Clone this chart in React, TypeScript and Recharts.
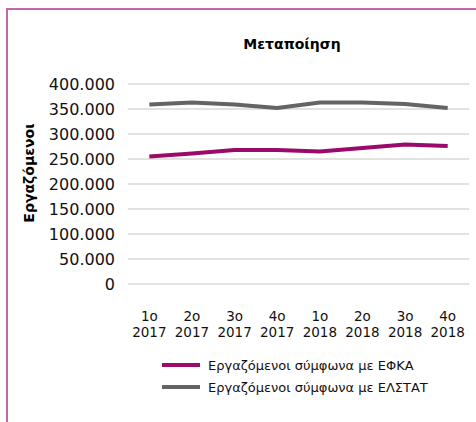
import React from 'react';
import { LineChart, Line, XAxis, YAxis, CartesianGrid, Legend } from 'recharts';

const quarters = ['1ο', '2ο', '3ο', '4ο', '1ο', '2ο', '3ο', '4ο'];
const years = ['2017', '2017', '2017', '2017', '2018', '2018', '2018', '2018'];
const efka = [255000, 261000, 268000, 268000, 265000, 272000, 279000, 276000];
const elstat = [359000, 363000, 359000, 352000, 363000, 363000, 360000, 352000];
const yTicks = [0, 50000, 100000, 150000, 200000, 250000, 300000, 350000, 400000];
const seriesNames = ['Εργαζόμενοι σύμφωνα με ΕΦΚΑ', 'Εργαζόμενοι σύμφωνα με ΕΛΣΤΑΤ'];
const title = 'Μεταποίηση';
const yLabel = 'Εργαζόμενοι';

const COLORS = ['#9b0a6b', '#646464'];
const FONT = '"DejaVu Sans", sans-serif';

const data = quarters.map((q, i) => ({
  key: `${q} ${years[i]}`,
  q,
  y: years[i],
  efka: efka[i],
  elstat: elstat[i],
}));

const fmt = (v: number) => v === 0 ? '0' : v.toString().replace(/\B(?=(\d{3})+(?!\d))/g, '.');

const XTick = (props: any) => {
  const { x, y, payload, index } = props;
  const i = index ?? data.findIndex((d) => d.key === payload.value);
  const d = data[i] || { q: '', y: '' };
  return (
    <g>
      <text x={x} y={y + 29} textAnchor="middle" fontFamily={FONT} fontSize={13.5} fill="#111">
        {d.q}
      </text>
      <text x={x} y={y + 45} textAnchor="middle" fontFamily={FONT} fontSize={13.5} fill="#111">
        {d.y}
      </text>
    </g>
  );
};

const LegendContent = () => (
  <div style={{ height: 44, fontFamily: FONT, fontSize: 13, color: '#111' }}>
    {seriesNames.map((n, i) => (
      <div key={n} style={{ height: 22, display: 'flex', alignItems: 'center' }}>
        <svg width={38} height={6} style={{ marginRight: 8 }}>
          <line x1={0} y1={3} x2={38} y2={3} stroke={COLORS[i]} strokeWidth={4} />
        </svg>
        <span>{n}</span>
      </div>
    ))}
  </div>
);

export default function App() {
  return (
    <div style={{ position: 'absolute', left: 0, top: 0, width: 476, height: 422, background: '#fff' }}>
      <div
        style={{
          position: 'absolute',
          left: 6,
          top: 8,
          width: 470,
          height: 414,
          boxSizing: 'border-box',
          borderTop: '2px solid #c463ae',
          borderLeft: '2px solid #c463ae',
        }}
      />
      <div
        style={{
          position: 'absolute',
          left: 192,
          width: 200,
          top: 36,
          textAlign: 'center',
          fontFamily: FONT,
          fontWeight: 'bold',
          fontSize: 14,
          color: '#000',
        }}
      >
        {title}
      </div>
      <LineChart
        width={476}
        height={422}
        data={data}
        margin={{ top: 84, right: 7, left: 0, bottom: 24 }}
        style={{ position: 'absolute', left: 0, top: 0 }}
      >
        <CartesianGrid vertical={false} stroke="#d9d9d9" strokeWidth={1.5} />
        <XAxis
          dataKey="key"
          scale="band"
          height={70}
          axisLine={false}
          tickLine={false}
          interval={0}
          tick={<XTick />}
        />
        <YAxis
          width={128}
          domain={[0, 400000]}
          ticks={yTicks}
          interval={0}
          axisLine={false}
          tickLine={false}
          tickMargin={7}
          tickFormatter={fmt}
          tick={{ fontFamily: FONT, fontSize: 16, fill: '#111' }}
          label={{
            content: () => (
              <text
                x={29}
                y={173}
                transform="rotate(-90 29 173)"
                textAnchor="middle"
                dominantBaseline="central"
                fontFamily={FONT}
                fontWeight="bold"
                fontSize={14}
                fill="#000"
              >
                {yLabel}
              </text>
            ),
          }}
        />
        <Line
          dataKey="efka"
          name={seriesNames[0]}
          stroke={COLORS[0]}
          strokeWidth={4}
          dot={false}
          activeDot={false}
          isAnimationActive={false}
        />
        <Line
          dataKey="elstat"
          name={seriesNames[1]}
          stroke={COLORS[1]}
          strokeWidth={4}
          dot={false}
          activeDot={false}
          isAnimationActive={false}
        />
        <Legend
          verticalAlign="bottom"
          content={<LegendContent />}
          wrapperStyle={{ left: 162, top: 354, width: 300, height: 44 }}
        />
      </LineChart>
    </div>
  );
}
